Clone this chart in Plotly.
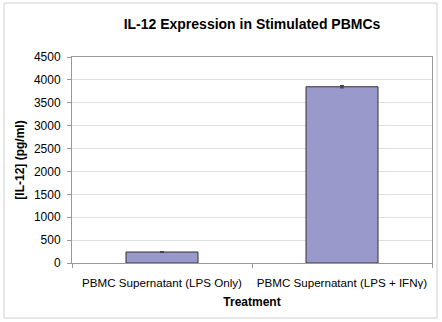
import plotly.graph_objects as go

categories = ["PBMC Supernatant (LPS Only)", "PBMC Supernatant (LPS + IFNγ)"]
values = [240, 3850]
errors = [0, 25]
y_ticks = [0, 500, 1000, 1500, 2000, 2500, 3000, 3500, 4000, 4500]

fig = go.Figure()
fig.add_trace(go.Bar(
    x=categories, y=values, width=0.4,
    marker=dict(color="#9999CC", line=dict(color="#333333", width=1)),
    error_y=dict(type="data", array=errors, color="#333333", thickness=1, width=2),
))

font = "Liberation Sans, Arial, sans-serif"
fig.update_layout(
    width=442, height=322,
    margin=dict(l=72, r=10, t=57, b=59, autoexpand=False),
    paper_bgcolor="white", plot_bgcolor="white",
    showlegend=False,
    font=dict(family=font, size=12, color="black"),
    title=dict(text="<b>IL-12 Expression in Stimulated PBMCs</b>", x=0.5, xref="paper",
               xanchor="center", y=1 - 24/322, yanchor="middle",
               font=dict(size=14, family=font, color="black")),
    xaxis=dict(
        type="category", showline=True, linecolor="#999999", linewidth=1, mirror=True,
        ticks="outside", tickson="boundaries", ticklen=4, tickcolor="#999999",
        showgrid=False, tickangle=0, automargin=False, ticklabelstandoff=9,
        title=dict(text="<b>Treatment</b>", standoff=9, font=dict(size=12)),
        tickfont=dict(size=11.6),
    ),
    yaxis=dict(
        range=[0, 4500], tickvals=y_ticks, showline=True, linecolor="#999999", linewidth=1,
        mirror=True, ticks="outside", ticklen=4, tickcolor="#999999",
        gridcolor="#E0E0E0", gridwidth=1, zeroline=False, automargin=False,
        title=dict(text="<b>[IL-12] (pg/ml)</b>", standoff=6, font=dict(size=12)),
        tickfont=dict(size=12), ticklabelstandoff=4,
    ),
    shapes=[dict(type="rect", xref="paper", yref="paper",
                 x0=(4 - 72) / 360, x1=(437 - 72) / 360,
                 y0=(263 - 318) / 206, y1=(263 - 3) / 206,
                 line=dict(color="#D0D0D0", width=1), layer="below")],
)

fig.write_html("out.html")
